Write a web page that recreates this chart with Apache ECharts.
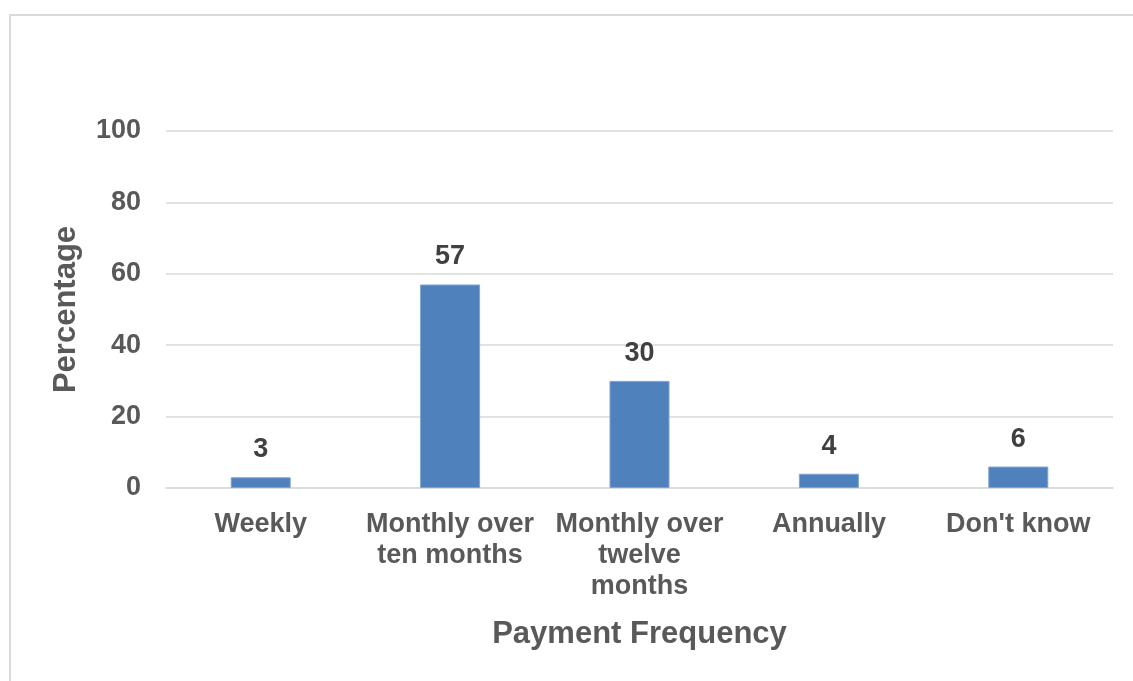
<!DOCTYPE html>
<html>
<head>
<meta charset="utf-8">
<script src="https://cdn.jsdelivr.net/npm/echarts@6/dist/echarts.min.js"></script>
<style>
  html, body { margin: 0; padding: 0; background: #fff; }
  #chart { width: 1133px; height: 681px; }
</style>
</head>
<body>
<div id="chart"></div>
<script>
// categories and values
var categories = ['Weekly', 'Monthly over\nten months', 'Monthly over\ntwelve\nmonths', 'Annually', "Don't know"];
var percentages = [3, 57, 30, 4, 6];
var yTicks = { min: 0, max: 100, interval: 20 };

var myChart = echarts.init(document.getElementById('chart'));

var option = {
  animation: false,
  backgroundColor: '#ffffff',
  textStyle: { fontFamily: 'Liberation Sans, Arial, sans-serif' },
  graphic: [{
    type: 'rect',
    shape: { x: 10, y: 15, width: 1140, height: 690 },
    style: { fill: 'none', stroke: '#d9d9d9', lineWidth: 2 }
  }],
  grid: { left: 166, right: 20, top: 131, bottom: 193 },
  xAxis: {
    type: 'category',
    data: categories,
    name: 'Payment Frequency',
    nameLocation: 'middle',
    nameGap: 131,
    nameTextStyle: { color: '#595959', fontSize: 31, fontWeight: 'bold' },
    axisLine: { show: true, lineStyle: { color: '#d9d9d9', width: 1.5 } },
    axisTick: { show: false },
    axisLabel: {
      color: '#595959', fontSize: 27, fontWeight: 'bold',
      margin: 21, lineHeight: 31, interval: 0
    }
  },
  yAxis: {
    type: 'value',
    min: yTicks.min,
    max: yTicks.max,
    interval: yTicks.interval,
    name: 'Percentage',
    nameLocation: 'middle',
    nameGap: 84,
    nameTextStyle: { color: '#595959', fontSize: 31, fontWeight: 'bold' },
    axisLine: { show: false },
    axisTick: { show: false },
    axisLabel: { color: '#595959', fontSize: 27, fontWeight: 'bold', margin: 25 },
    splitLine: { lineStyle: { color: '#d9d9d9', width: 1.5 } }
  },
  series: [{
    type: 'bar',
    data: percentages,
    barWidth: 60,
    itemStyle: { color: '#4f81bd', borderColor: '#7ea3d3', borderWidth: 1 },
    label: {
      show: true,
      position: 'top',
      distance: 14,
      color: '#404040',
      fontSize: 27,
      fontWeight: 'bold'
    }
  }]
};

myChart.setOption(option);
</script>
</body>
</html>
